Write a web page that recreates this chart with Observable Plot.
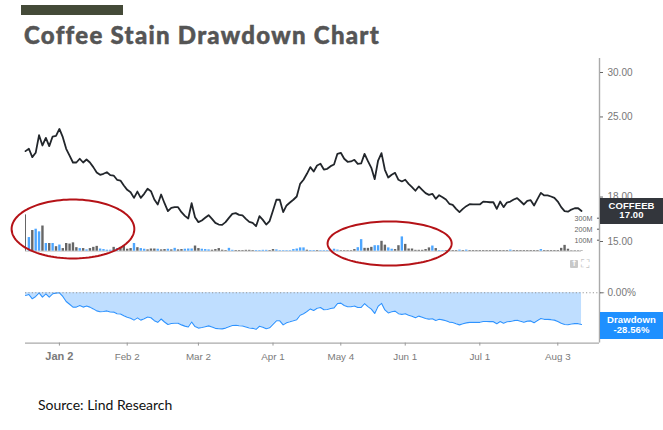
<!DOCTYPE html>
<html>
<head>
<meta charset="utf-8">
<script src="https://cdn.jsdelivr.net/npm/d3@7"></script>
<script src="https://cdn.jsdelivr.net/npm/@observablehq/plot@0.6"></script>
<style>
html,body{margin:0;padding:0;background:#fff;}
#wrap{position:relative;width:663px;height:430px;overflow:hidden;font-family:"Liberation Sans",sans-serif;}
#wrap svg{position:absolute;left:0;top:0;}
#bar{position:absolute;left:21px;top:5px;width:102px;height:10px;background:#444a38;}
#title{position:absolute;left:24px;top:19px;font:900 24px/32px Lato,sans-serif;letter-spacing:1.28px;color:#555;white-space:nowrap;-webkit-text-stroke:0.5px #555;}
#source{position:absolute;left:38px;top:396px;font:14px/18px Lato,sans-serif;color:#111;white-space:nowrap;}
.tag{position:absolute;left:600px;width:63px;color:#fff;text-align:center;font-weight:bold;font-size:9.5px;line-height:9.5px;letter-spacing:0.1px;}
#priceTag{top:197.5px;height:26.5px;background:#33363c;padding-top:3px;box-sizing:border-box;}
#ddTag{top:311.5px;height:27px;background:#1e90ff;padding-top:3.5px;box-sizing:border-box;}
#up{position:absolute;left:570px;top:260px;width:8px;height:8px;background:#c8c8c8;border-radius:1px;color:#fff;font:bold 8px/8px "DejaVu Sans";text-align:center;}
#full{position:absolute;left:581px;top:258px;color:#c4c4c4;font:12px/12px "DejaVu Sans";}
</style>
</head>
<body>
<div id="wrap">
  <div id="bar"></div>
  <div id="title">Coffee Stain Drawdown Chart</div>
  <div id="source">Source: Lind Research</div>
</div>
<script>
const prices = [21.73,21.94,21.20,21.58,23.20,22.24,22.95,22.18,23.07,23.14,
23.80,23.01,21.94,21.34,20.74,20.74,21.06,20.74,21.00,20.74,
20.35,19.91,19.72,19.80,19.93,19.69,19.66,19.32,19.26,18.87,
18.54,18.36,17.94,18.41,17.94,18.24,18.62,18.44,17.82,17.46,
18.19,17.55,16.99,17.22,17.27,17.27,16.92,16.66,16.48,17.55,
16.57,16.24,16.35,16.53,16.71,16.46,16.19,16.08,16.06,
16.24,16.53,16.80,16.85,16.73,16.69,16.46,16.26,16.19,15.97,
16.64,16.39,16.08,16.31,17.03,17.80,17.80,16.92,17.39,17.60,
17.80,18.04,19.00,19.32,19.80,20.35,19.99,20.49,20.63,20.15,
20.21,20.43,20.57,21.49,21.58,21.06,20.80,20.83,20.97,20.63,
20.66,21.49,20.85,20.29,19.37,20.91,21.55,20.13,19.50,19.72,
19.88,19.32,19.19,19.32,19.00,18.75,18.47,18.80,18.54,18.29,
18.16,18.24,17.87,18.14,17.99,
17.82,17.51,17.43,17.15,16.92,17.15,17.34,17.48,17.46,17.46,
17.46,17.67,17.65,17.62,17.62,17.15,17.67,17.27,17.60,17.67,
17.82,17.92,17.69,17.46,17.72,17.77,17.39,17.85,18.31,18.12,
18.12,18.04,17.94,17.67,17.27,16.99,16.95,17.10,17.19,17.19,17.00];

const drawdown = [-2.4,-1.5,-5.4,-3.3,0,-3.9,-0.9,-3.9,-0.9,-0.3,
0,-3.3,-7.8,-10.3,-12.9,-12.9,-11.5,-12.9,-11.8,-12.9,
-14.5,-16.3,-17.1,-16.8,-16.3,-17.3,-17.4,-18.8,-19.1,-20.7,
-22.1,-22.9,-24.6,-22.6,-24.6,-23.4,-21.8,-22.5,-25.1,-26.6,
-23.6,-26.3,-28.6,-27.6,-27.4,-27.4,-28.9,-30.0,-30.8,-26.3,
-30.4,-31.8,-31.3,-30.5,-29.8,-30.8,-32.0,-32.4,-32.5,
-31.8,-30.5,-29.4,-29.2,-29.7,-29.9,-30.8,-31.7,-32.0,-32.9,
-30.1,-31.1,-32.4,-31.5,-28.4,-25.2,-25.2,-28.9,-26.9,-26.1,
-25.2,-24.2,-20.2,-18.8,-16.8,-14.5,-16.0,-13.9,-13.3,-15.3,
-15.1,-14.2,-13.6,-9.7,-9.3,-11.5,-12.6,-12.5,-11.9,-13.3,
-13.2,-9.7,-12.4,-14.7,-18.6,-12.1,-9.5,-15.4,-18.1,-17.1,
-16.5,-18.8,-19.4,-18.8,-20.2,-21.2,-22.4,-21.0,-22.1,-23.2,
-23.7,-23.4,-24.9,-23.8,-24.4,
-25.1,-26.4,-26.8,-27.9,-28.9,-27.9,-27.1,-26.6,-26.6,-26.6,
-26.6,-25.8,-25.8,-26.0,-26.0,-27.9,-25.8,-27.4,-26.1,-25.8,
-25.1,-24.7,-25.7,-26.6,-25.5,-25.3,-26.9,-25.0,-23.1,-23.9,
-23.9,-24.2,-24.6,-25.8,-27.4,-28.6,-28.8,-28.1,-27.8,-27.8,-28.56];

const volumes = [330,124,188,200,176,229,70,70,70,41,56,24,70,65,76,32,
24,24,12,24,35,44,20,15,9,9,
35,24,35,53,18,24,70,32,24,18,12,20,20,18,
12,15,18,12,26,12,15,18,20,20,47,24,18,15,12,9,15,24,9,
6,26,8,6,6,6,8,8,6,6,6,8,8,6,15,12,5,5,5,5,15,
20,30,30,9,6,6,6,5,5,5,6,18,10,5,5,5,5,15,32,105,
26,26,35,50,50,90,55,30,18,15,50,130,62,20,20,8,8,8,15,30,
47,24,6,5,6,5,6,6,10,6,10,6,6,6,6,6,6,6,6,6,
6,6,6,10,6,6,6,6,6,6,6,6,15,6,6,6,6,6,26,53,18,
4,4,4,4];

const upDays = [1,3,4,6,8,10,16,18,22,23,24,25,27,32,34,35,39,42,44,47,48,49,52,53,54,
60,61,68,69,70,71,74,75,76,77,78,79,80,81,82,84,85,87,88,89,91,92,98,99,103,104,107,108,111,120,122,123,
128,130,143,152];

const priceTicks = [30,25,18,15];
const volumeTicks = [300,200,100];
const volumeTickLabels = ["300M","200M","100M"];
const dateTicks = [10,30,51,73,93,112,134,157];
const dateLabels = ["Jan 2","Feb 2","Mar 2","Apr 1","May 4","Jun 1","Jul 1","Aug 3"];
const highlightCenters = [14,107.4];
const highlightVolumes = [202,70];
const highlightRadiusX = [18.1,18.3];
const highlightRadiusY = [268,200];

const xDomain = [0,169.3];
const session = prices.map((p,i)=>({i,p,d:drawdown[i],v:volumes[i],up:upDays.includes(i)}));
const ellipse = highlightCenters.flatMap((c,k)=>d3.range(0,121).map(t=>({
  k,
  x:c+highlightRadiusX[k]*Math.cos(t/120*2*Math.PI),
  y:highlightVolumes[k]+highlightRadiusY[k]*Math.sin(t/120*2*Math.PI)
})));

const common = {width:663,height:430,marginLeft:25,marginRight:64,marginTop:58,marginBottom:87.4,
  style:{background:"transparent",fontFamily:"Liberation Sans, sans-serif"},
  x:{domain:xDomain,axis:null}};
const gray="#7a7a7a";

const pricePlot = Plot.plot({...common,
  y:{type:"log",domain:[15,30],range:[241,72],axis:null},
  marks:[
    Plot.ruleX([xDomain[1]],{stroke:"#aaaaaa",strokeWidth:1.4}),
    Plot.axisY(priceTicks,{anchor:"right",tickSize:3,tickPadding:5,stroke:"#666",fill:"#777",fontSize:10,tickFormat:d=>d.toFixed(2),label:null}),
    Plot.line(session,{x:"i",y:"p",stroke:"#22262b",strokeWidth:1.8,strokeLinejoin:"round"})
  ]});

const volumePlot = Plot.plot({...common,
  y:{domain:[0,300],range:[250.7,217.7],axis:null},
  marks:[
    Plot.ruleY([0],{x1:0,x2:164,stroke:"#c9c9c9",strokeWidth:1}),
    Plot.ruleX(session.filter(d=>d.i>0&&!d.up),{x:"i",y1:0,y2:"v",stroke:"#666666",strokeWidth:2.4}),
    Plot.ruleX(session.filter(d=>d.up),{x:"i",y1:0,y2:"v",stroke:"#4da6ff",strokeWidth:2.4}),
    Plot.ruleX(session.filter(d=>d.i===0),{x:"i",y1:0,y2:"v",stroke:"#666666",strokeWidth:1}),
    Plot.text(volumeTicks,{x:xDomain[1],y:d=>d,dx:-7,textAnchor:"end",text:(d,i)=>volumeTickLabels[i],fill:"#666",fontSize:7.2}),
    Plot.ruleY(volumeTicks,{x1:xDomain[1]-0.6,x2:xDomain[1],stroke:"#555"}),
    Plot.line(ellipse,{x:"x",y:"y",z:"k",stroke:"#b51217",strokeWidth:2})
  ]});

const ddPlot = Plot.plot({...common,
  y:{domain:[0,-45.3],range:[292.3,342.6],axis:null},
  marks:[
    Plot.areaY(session,{x:"i",y1:0,y2:"d",fill:"#bfdeff"}),
    Plot.line(session,{x:"i",y:"d",stroke:"#2e93ff",strokeWidth:1.1}),
    Plot.ruleY([0],{x1:0,x2:171,stroke:"#999",strokeDasharray:"1.2,2.2",strokeWidth:1.1}),
    Plot.axisY([0],{anchor:"right",tickSize:3,tickPadding:5,stroke:"#666",fill:"#777",fontSize:10,tickFormat:d=>d.toFixed(2)+"%",label:null}),
    Plot.ruleY([-45.3],{stroke:"#aaaaaa",strokeWidth:1.4}),
    Plot.ruleX(dateTicks,{x:d=>d,y1:-45.3,y2:-48,stroke:"#999"}),
    Plot.text(dateTicks.filter((d,i)=>i>0),{x:d=>d,y:-45.3,dy:13.5,text:(d,i)=>dateLabels[i+1],fill:gray,fontSize:9.8}),
    Plot.text(dateTicks.slice(0,1),{x:d=>d,y:-45.3,dy:13.5,text:()=>dateLabels[0],fill:gray,fontSize:11,fontWeight:"bold"})
  ]});

const wrap=document.getElementById("wrap");
wrap.append(pricePlot,volumePlot,ddPlot);
const addDiv=(id,html)=>{const e=document.createElement("div");e.id=id;if(e.id!=="up"&&e.id!=="full")e.className="tag";e.innerHTML=html;wrap.append(e);};
addDiv("priceTag","COFFEEB<br>17.00");
addDiv("ddTag","Drawdown<br>-28.56%");
addDiv("up","↑");
addDiv("full","⛶");
</script>
</body>
</html>
